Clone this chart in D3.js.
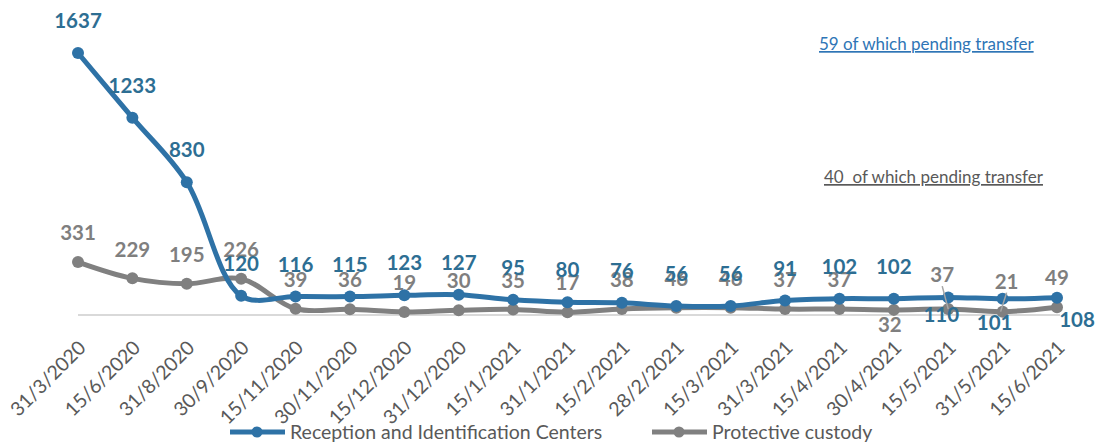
<!DOCTYPE html>
<html>
<head>
<meta charset="utf-8">
<script src="https://cdn.jsdelivr.net/npm/d3@7"></script>
<style>
  body { margin: 0; background: #fff; }
  svg { display: block; font-family: Lato, "Open Sans", sans-serif; }
</style>
</head>
<body>
<div id="chart"></div>
<script>
// categories and series
var dates = ["31/3/2020", "15/6/2020", "31/8/2020", "30/9/2020", "15/11/2020", "30/11/2020",
  "15/12/2020", "31/12/2020", "15/1/2021", "31/1/2021", "15/2/2021", "28/2/2021", "15/3/2021",
  "31/3/2021", "15/4/2021", "30/4/2021", "15/5/2021", "31/5/2021", "15/6/2021"]
var ric = [1637, 1233, 830, 120, 116, 115, 123, 127, 95, 80, 76, 56, 56, 91, 102, 102, 110, 101, 108]
var custody = [331, 229, 195, 226, 39, 36, 19, 30, 35, 17, 38, 46, 46, 37, 37, 32, 37, 21, 49]
var seriesNames = ["Reception and Identification Centers", "Protective custody"]
var notes = ["59 of which pending transfer", "40  of which pending transfer"]

var W = 1095, H = 442
var blue = "#2E72A6", blueTxt = "#2D6E93"
var grey = "#808080", greyTxt = "#7F7F7F"

var svg = d3.select("#chart").append("svg")
    .attr("width", W).attr("height", H)

var x = d3.scalePoint().domain(dates).range([78, 1057])
var y = d3.scaleLinear().domain([0, 1637]).range([315, 53])

// axis line
svg.append("line")
  .attr("x1", 78).attr("x2", 1060)
  .attr("y1", y(0)).attr("y2", y(0))
  .attr("stroke", "#d9d9d9").attr("stroke-width", 2)

// tick labels
svg.append("g").selectAll("text")
  .data(dates).join("text")
    .attr("transform", d => "translate(" + (x(d) + 9) + "," + 349 + ") rotate(-45)")
    .attr("text-anchor", "end")
    .attr("font-size", 19.5)
    .attr("fill", "#595959")
    .text(d => d)

var line = d3.line()
  .x((d, i) => x(dates[i]))
  .y(d => y(d))
  .curve(d3.curveCatmullRom.alpha(0.5))

function drawSeries(vals, color){
  var g = svg.append("g")
  g.append("path")
    .attr("d", line(vals))
    .attr("fill", "none")
    .attr("stroke", color)
    .attr("stroke-width", 5)
    .attr("stroke-linejoin", "round")
  g.selectAll("circle")
    .data(vals).join("circle")
      .attr("cx", (d, i) => x(dates[i]))
      .attr("cy", d => y(d))
      .attr("r", 6)
      .attr("fill", color)
  return g
}

var gGrey = drawSeries(custody, grey)
var gBlue = drawSeries(ric, blue)

// label offsets (dx, dy) per point, default above
function greyOff(i){
  if (i == 15) return [-4, 15]
  if (i == 16) return [-6, -34]
  if (i == 17) return [4, -30]
  return [0, -29]
}
function blueOff(i){
  if (i == 16) return [-7, 17]
  if (i == 17) return [-8, 24]
  if (i == 18) return [20, 22]
  return [0, -32]
}

// leader lines for crowded grey labels
;[16, 17].forEach(i => {
  var o = greyOff(i)
  svg.append("line")
    .attr("x1", x(dates[i]) + o[0]).attr("y1", y(custody[i]) + o[1] + 11)
    .attr("x2", x(dates[i]) + (i == 16 ? 0 : -2)).attr("y2", y(custody[i]))
    .attr("stroke", "#a6a6a6").attr("stroke-width", 1.5)
})

svg.append("g").selectAll("text")
  .data(custody).join("text")
    .attr("x", (d, i) => x(dates[i]) + greyOff(i)[0])
    .attr("y", (d, i) => y(d) + greyOff(i)[1])
    .attr("dy", "0.35em")
    .attr("text-anchor", "middle")
    .attr("font-size", 20.5).attr("font-weight", "bold")
    .attr("fill", greyTxt)
    .text(d => d)

svg.append("g").selectAll("text")
  .data(ric).join("text")
    .attr("x", (d, i) => x(dates[i]) + blueOff(i)[0])
    .attr("y", (d, i) => y(d) + blueOff(i)[1])
    .attr("dy", "0.35em")
    .attr("text-anchor", "middle")
    .attr("font-size", 20.5).attr("font-weight", "bold")
    .attr("fill", blueTxt)
    .text(d => d)

// notes
svg.append("text")
  .attr("x", 819).attr("y", 50)
  .attr("font-size", 17).attr("fill", "#2E75B6")
  .style("text-decoration", "underline")
  .text(notes[0])
svg.append("text")
  .attr("x", 824).attr("y", 183)
  .attr("font-size", 17).attr("fill", "#595959")
  .style("text-decoration", "underline")
  .style("white-space", "pre")
  .text(notes[1])

// legend
var legend = [[230, blue], [652, grey]]
legend.forEach((l, i) => {
  var g = svg.append("g").attr("transform", "translate(" + l[0] + ",432)")
  g.append("line").attr("x1", 0).attr("x2", 55)
    .attr("stroke", l[1]).attr("stroke-width", 5)
  g.append("circle").attr("cx", 27).attr("r", 5.5).attr("fill", l[1])
  g.append("text").attr("x", 60).attr("dy", "0.35em")
    .attr("font-size", 19.5).attr("fill", "#595959")
    .text(seriesNames[i])
})
</script>
</body>
</html>
